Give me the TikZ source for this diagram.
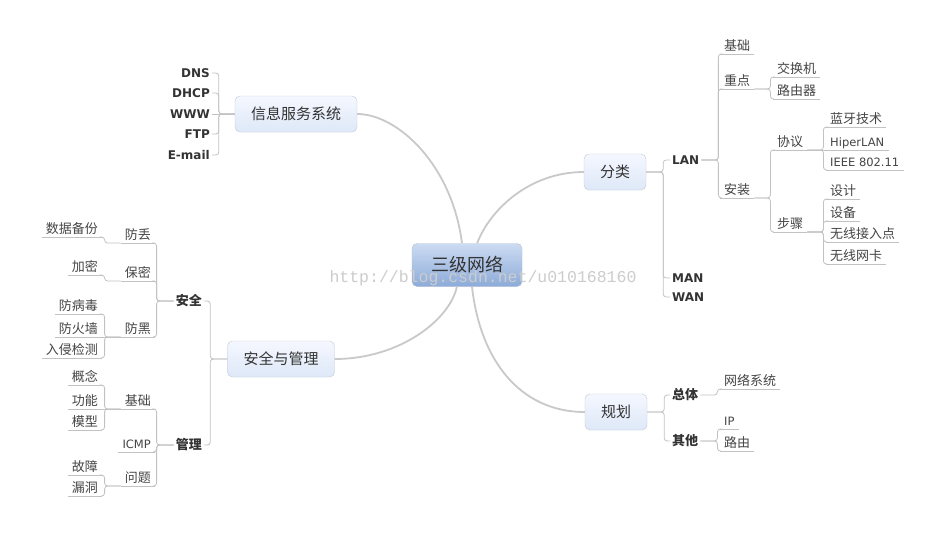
\documentclass[tikz,border=0pt]{standalone}
\usepackage{fontspec}
\setmainfont{DejaVu Sans}
\newfontfamily\cjk{Noto Sans CJK SC}
\newfontfamily\wmfont{Liberation Mono}
\tikzset{
  topic/.style={draw=cbox,rounded corners=5pt,top color=cboxt,bottom color=cboxb,minimum height=36pt,inner xsep=16pt,inner ysep=0pt,text=ctxt,font=\cjk\fontsize{15}{18}\selectfont},
  root/.style={topic,draw=croot,top color=croott,bottom color=crootb,minimum width=110pt,minimum height=43pt,font=\cjk\fontsize{18}{21}\selectfont},
  sub/.style={inner xsep=2pt,inner ysep=1pt,text=ctxt,font=\bfseries\fontsize{12}{14}\selectfont},
  subcn/.style={sub,font=\cjk\bfseries\fontsize{13}{15}\selectfont},
  leaf/.style={inner xsep=4pt,inner ysep=1.5pt,text height=11pt,text depth=2pt,text=cleaf,font=\cjk\fontsize{13}{15}\selectfont,
    append after command={(\tikzlastnode.south west) edge[uline] (\tikzlastnode.south east)}},
  leafen/.style={leaf,font=\fontsize{11.5}{14}\selectfont},
  uline/.style={draw=clink,line width=0.8pt},
  branch/.style={draw=clink,line width=0.8pt,rounded corners=3pt},
  trunk/.style={draw=ctrunk,line width=1.8pt},
}
\begin{document}
\begin{tikzpicture}[x=1pt,y=-1pt]
%
\useasboundingbox (0,0) rectangle (949,535);
\fill[white] (0,0) rectangle (949,535);
%
\definecolor{ctxt}{rgb}{0.2,0.2,0.2}
\definecolor{cleaf}{rgb}{0.27,0.27,0.27}
\definecolor{clink}{rgb}{0.76,0.76,0.76}
\definecolor{ctrunk}{rgb}{0.79,0.79,0.79}
\definecolor{cbox}{rgb}{0.76,0.79,0.84}
\definecolor{cboxt}{rgb}{0.96,0.97,1.0}
\definecolor{cboxb}{rgb}{0.87,0.91,0.97}
\definecolor{croot}{rgb}{0.72,0.75,0.80}
\definecolor{croott}{rgb}{0.80,0.86,0.95}
\definecolor{crootb}{rgb}{0.55,0.67,0.85}
\definecolor{cmark}{rgb}{0.80,0.80,0.80}
%
\node[root] (net) at (467,265) {三级网络};
\node[topic] (info) at (296,114) {信息服务系统};
\node[topic] (cls) at (615,172) {分类};
\node[topic] (sec) at (281,359) {安全与管理};
\node[topic] (plan) at (616,412) {规划};
%
\draw[trunk] (info.east) .. controls +(40,0) and +(-10,-79) .. (net.103);
\draw[trunk] (net.65) .. controls +(13,-34) and +(-54,0) .. (cls.west);
\draw[trunk] (net.245) .. controls +(-7,33) and +(65,0) .. (sec.east);
\draw[trunk] (net.283) .. controls +(8,73) and +(-65,0) .. (plan.west);
%
% info
\node[sub,anchor=east] (dns) at (212,73) {DNS};
\node[sub,anchor=east] (dhcp) at (212,93) {DHCP};
\node[sub,anchor=east] (www) at (212,114) {WWW};
\node[sub,anchor=east] (ftp) at (212,134) {FTP};
\node[sub,anchor=east] (mail) at (212,155) {E-mail};
\draw[branch] (info.west) -- ++(-16,0) |- (dns.east);
\draw[branch] (info.west) -- ++(-16,0) |- (dhcp.east);
\draw[branch] (info.west) -- (www.east);
\draw[branch] (info.west) -- ++(-16,0) |- (ftp.east);
\draw[branch] (info.west) -- ++(-16,0) |- (mail.east);
%
% cls
\node[sub,anchor=west] (lan) at (670,160) {LAN};
\node[sub,anchor=west] (man) at (670,278) {MAN};
\node[sub,anchor=west] (wan) at (670,297) {WAN};
\draw[branch] (cls.east) -- ++(17,0) |- (lan.west);
\draw[branch] (cls.east) -- ++(17,0) |- (man.west);
\draw[branch] (cls.east) -- ++(17,0) |- (wan.west);
%
\node[leaf,anchor=south west] (lanbase) at (720,54) {基础};
\node[leaf,anchor=south west] (lankey) at (720,89) {重点};
\node[leaf,anchor=south west] (laninst) at (720,198) {安装};
\draw[branch] (lan.east) -- ++(17,0) |- (lanbase.south west);
\draw[branch] (lan.east) -- ++(17,0) |- (lankey.south west);
\draw[branch] (lan.east) -- ++(17,0) |- (laninst.south west);
%
\node[leaf,anchor=south west] (sw) at (773,77) {交换机};
\node[leaf,anchor=south west] (rt) at (773,99) {路由器};
\draw[branch] (lankey.south east) -- ++(16,0) |- (sw.south west);
\draw[branch] (lankey.south east) -- ++(16,0) |- (rt.south west);
%
\node[leaf,anchor=south west] (proto) at (773,150) {协议};
\node[leaf,anchor=south west] (steps) at (773,232) {步骤};
\draw[branch] (laninst.south east) -- ++(16,0) |- (proto.south west);
\draw[branch] (laninst.south east) -- ++(16,0) |- (steps.south west);
%
\node[leaf,anchor=south west] (bt) at (826,127) {蓝牙技术};
\node[leafen,anchor=south west] (hiper) at (826,150) {HiperLAN};
\node[leafen,anchor=south west] (ieee) at (826,170) {IEEE 802.11};
\draw[branch] (proto.south east) -- ++(16,0) |- (bt.south west);
\draw[branch] (proto.south east) -- (hiper.south west);
\draw[branch] (proto.south east) -- ++(16,0) |- (ieee.south west);
%
\node[leaf,anchor=south west] (design) at (826,199) {设计};
\node[leaf,anchor=south west] (device) at (826,221) {设备};
\node[leaf,anchor=south west] (ap) at (826,242) {无线接入点};
\node[leaf,anchor=south west] (nic) at (826,264) {无线网卡};
\draw[branch] (steps.south east) -- ++(16,0) |- (design.south west);
\draw[branch] (steps.south east) -- ++(16,0) |- (device.south west);
\draw[branch] (steps.south east) -- ++(16,0) |- (ap.south west);
\draw[branch] (steps.south east) -- ++(16,0) |- (nic.south west);
%
% plan
\node[subcn,anchor=west] (whole) at (670,395) {总体};
\node[subcn,anchor=west] (other) at (670,441) {其他};
\draw[branch] (plan.east) -- ++(17,0) |- (whole.west);
\draw[branch] (plan.east) -- ++(17,0) |- (other.west);
\node[leaf,anchor=south west] (netsys) at (720,389) {网络系统};
\node[leafen,anchor=south west] (ip) at (720,429) {IP};
\node[leaf,anchor=south west] (route) at (720,451) {路由};
\draw[branch] (whole.east) -- ++(17,0) |- (netsys.south west);
\draw[branch] (other.east) -- ++(17,0) |- (ip.south west);
\draw[branch] (other.east) -- ++(17,0) |- (route.south west);
%
% sec
\node[subcn,anchor=east] (safe) at (204,301) {安全};
\node[subcn,anchor=east] (mgmt) at (204,445) {管理};
\draw[branch] (sec.west) -- ++(-17,0) |- (safe.east);
\draw[branch] (sec.west) -- ++(-17,0) |- (mgmt.east);
%
\node[leaf,anchor=south east] (lose) at (155,243) {防丢};
\node[leaf,anchor=south east] (secret) at (155,281) {保密};
\node[leaf,anchor=south east] (hack) at (155,337) {防黑};
\draw[branch] (safe.west) -- ++(-17,0) |- (lose.south east);
\draw[branch] (safe.west) -- ++(-17,0) |- (secret.south east);
\draw[branch] (safe.west) -- ++(-17,0) |- (hack.south east);
%
\node[leaf,anchor=south east] (backup) at (102,237) {数据备份};
\node[leaf,anchor=south east] (encrypt) at (102,275) {加密};
\draw[branch] (lose.south west) -- ++(-16,0) |- (backup.south east);
\draw[branch] (secret.south west) -- ++(-16,0) |- (encrypt.south east);
\node[leaf,anchor=south east] (virus) at (102,314) {防病毒};
\node[leaf,anchor=south east] (fw) at (102,337) {防火墙};
\node[leaf,anchor=south east] (ids) at (102,358) {入侵检测};
\draw[branch] (hack.south west) -- ++(-16,0) |- (virus.south east);
\draw[branch] (hack.south west) -- (fw.south east);
\draw[branch] (hack.south west) -- ++(-16,0) |- (ids.south east);
%
\node[leaf,anchor=south east] (mbase) at (155,409) {基础};
\node[leafen,anchor=south east] (icmp) at (155,452) {ICMP};
\node[leaf,anchor=south east] (issue) at (155,486) {问题};
\draw[branch] (mgmt.west) -- ++(-17,0) |- (mbase.south east);
\draw[branch] (mgmt.west) -- ++(-17,0) |- (icmp.south east);
\draw[branch] (mgmt.west) -- ++(-17,0) |- (issue.south east);
%
\node[leaf,anchor=south east] (concept) at (102,385) {概念};
\node[leaf,anchor=south east] (func) at (102,409) {功能};
\node[leaf,anchor=south east] (model) at (102,430) {模型};
\draw[branch] (mbase.south west) -- ++(-16,0) |- (concept.south east);
\draw[branch] (mbase.south west) -- (func.south east);
\draw[branch] (mbase.south west) -- ++(-16,0) |- (model.south east);
\node[leaf,anchor=south east] (fault) at (102,475) {故障};
\node[leaf,anchor=south east] (hole) at (102,496) {漏洞};
\draw[branch] (issue.south west) -- ++(-16,0) |- (fault.south east);
\draw[branch] (issue.south west) -- ++(-16,0) |- (hole.south east);
%
\node[text=cmark,font=\wmfont\fontsize{16.5}{18}\selectfont] (mark) at (483,278) {http://blog.csdn.net/u010168160};
%
\end{tikzpicture}
\end{document}
